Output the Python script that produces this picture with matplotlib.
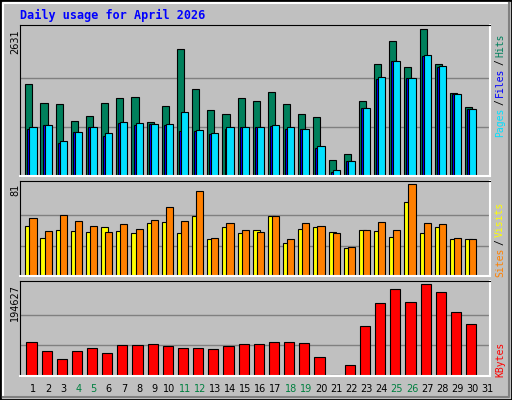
import matplotlib
matplotlib.use('Agg')
import matplotlib.pyplot as plt
from matplotlib.patches import Rectangle
import numpy as np

days = list(range(1, 32))
hits = [1647, 1307, 1289, 985, 1074, 1307, 1396, 1414, 967, 1253, 2273, 1557, 1181, 1110, 1396,
        1343, 1504, 1289, 1110, 1056, 286, 394, 1343, 2005, 2417, 1951, 2631, 2005, 1486, 1235, 0]
files = [841, 913, 591, 788, 877, 716, 949, 913, 931, 913, 806, 806, 752, 841, 877,
         877, 895, 841, 841, 501, 72, 269, 1217, 1736, 2059, 1754, 2148, 1951, 1468, 1199, 0]
pages = [877, 913, 627, 788, 877, 770, 967, 949, 931, 931, 1146, 823, 770, 877, 877,
         877, 913, 877, 841, 537, 107, 269, 1217, 1772, 2059, 1754, 2166, 1969, 1468, 1199, 0]
sites = [44, 34, 41, 40, 39, 43, 40, 38, 47, 48, 38, 53, 33, 43, 38,
         41, 53, 29, 42, 43, 39, 25, 41, 40, 35, 65, 38, 43, 33, 33, 0]
visits = [51, 40, 54, 49, 44, 39, 46, 42, 50, 61, 49, 75, 34, 47, 41,
          39, 53, 33, 47, 44, 38, 26, 41, 48, 41, 81, 47, 46, 34, 33, 0]
kbytes = [71030, 51850, 34800, 51850, 58240, 47590, 64640, 64640, 66770, 62510, 58240, 58240, 56110, 62510, 66770,
          66770, 71030, 71030, 68900, 39070, 1500, 22020, 105120, 154130, 183970, 156270, 194627, 177580, 134960, 109390, 0]
weekend = [4, 5, 11, 12, 18, 19, 25, 26]

BG = '#c0c0c0'
W, H = 512, 400
fig = plt.figure(figsize=(5.12, 4.0), dpi=100, facecolor=BG)
mono = 'DejaVu Sans Mono'

# bevelled outer frame
fig.add_artist(Rectangle((0, 0), 1, 1, transform=fig.transFigure, fill=False, ec='black', lw=2))
fig.add_artist(plt.Line2D([3/W, 3/W, 1-3/W], [3/H, 1-3/H, 1-3/H], transform=fig.transFigure, color='white', lw=1.5))
fig.add_artist(plt.Line2D([3/W, 1-3/W, 1-3/W], [3/H, 3/H, 1-3/H], transform=fig.transFigure, color='#808080', lw=1.5))

fig.text(20/W, 1-15/H, 'Daily usage for April 2026', color='#0000ff', family=mono,
         weight='bold', fontsize=8.5, va='center')

x = np.arange(31)


def panel(top, bottom, ymax):
    ax = fig.add_axes([20/W, 1-bottom/H, 470/W, (bottom-top)/H])
    ax.set_facecolor(BG)
    ax.set_xlim(0, 31)
    ax.set_ylim(0, ymax)
    ax.set_xticks([])
    ax.set_yticks([])
    for s in ['left', 'top']:
        ax.spines[s].set_color('black')
    for s in ['right', 'bottom']:
        ax.spines[s].set_color('white')
        ax.spines[s].set_linewidth(1.5)
    return ax


def grid(ax, vmax):
    for g in (vmax/3, 2*vmax/3):
        ax.axhline(g, color='#808080', lw=1, zorder=0)


kw = dict(align='edge', edgecolor='black', linewidth=0.8)

ax1 = panel(25, 176.3, 2631*151.3/147)
grid(ax1, 2631)
ax1.bar(x+0.35, hits, 0.47, color='#00805c', **kw)
ax1.bar(x+0.49, files, 0.47, color='#0000ff', **kw)
ax1.bar(x+0.62, pages, 0.47, color='#00e0ff', **kw)

ax2 = panel(181, 276.3, 81*95.3/92)
grid(ax2, 81)
ax2.bar(x+0.35, sites, 0.47, color='#ffff00', **kw)
ax2.bar(x+0.62, visits, 0.47, color='#ff8000', **kw)

ax3 = panel(281, 375.7, 194627*94.7/91.4)
grid(ax3, 194627)
ax3.bar(x+0.42, kbytes, 0.67, color='#ff0000', **kw)

for d in days:
    fig.text((20 + (d-1)*470/31 + 13)/W, 1-389/H, str(d), ha='center', va='center',
             fontsize=7, color='#008040' if d in weekend else 'black')

fig.text(15/W, 1-29/H, '2631', rotation=90, ha='center', va='top', fontsize=7)
fig.text(15/W, 1-184/H, '81', rotation=90, ha='center', va='top', fontsize=7)
fig.text(15/W, 1-284/H, '194627', rotation=90, ha='center', va='top', fontsize=7)


def side(parts, y0):
    y = y0
    for txt, col in parts:
        t = fig.text(500/W, 1-y/H, txt, rotation=90, ha='center', va='bottom',
                     family=mono, fontsize=7, color=col)
        y -= len(txt) * 6.0 + 2


side([('Pages', '#00e0ff'), ('/', 'black'), ('Files', '#0000ff'), ('/', 'black'), ('Hits', '#00805c')], 137)
side([('Sites', '#ff8000'), ('/', 'black'), ('Visits', '#ffff00')], 277)
side([('KBytes', '#ff0000')], 377)

fig.savefig('out.png', dpi=100, facecolor=BG)
